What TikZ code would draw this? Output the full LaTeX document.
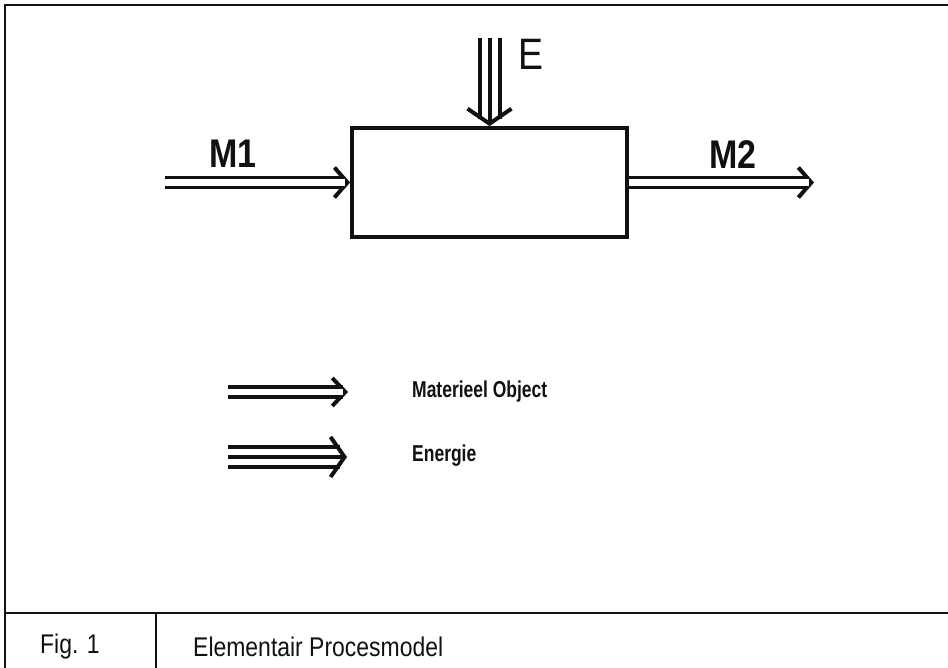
\documentclass[tikz,border=0pt]{standalone}
\usepackage{fontspec}
\setmainfont{Liberation Sans}
\newfontfamily\narrowsans[FakeStretch=0.85]{Liberation Sans}
\newfontfamily\condsans[FakeStretch=0.76]{Liberation Sans}
\usetikzlibrary{
  arrows.meta,
  positioning,
  calc,
}
\definecolor{ink}{HTML}{111111}
\definecolor{paper}{HTML}{FFFFFF}
\tikzset{
  frame/.style={draw=ink, line width=2.2pt},
  procesbox/.style={
    draw=ink,
    line width=3.8pt,
    minimum width=275pt,
    minimum height=109pt,
    inner sep=0pt,
  },
  flowlabel/.style={font=\narrowsans\bfseries\fontsize{40}{44}\selectfont, text=ink, inner sep=0pt},
  energylabel/.style={font=\narrowsans\fontsize{44}{48}\selectfont, text=ink, inner sep=0pt},
  legendtext/.style={font=\condsans\bfseries\fontsize{23}{27}\selectfont, text=ink, anchor=west, inner sep=0pt},
  captiontext/.style={font=\narrowsans\fontsize{27}{31}\selectfont, text=ink, anchor=west, inner sep=0pt},
  tipmark/.style={
    draw=paper,
    line width=0.1pt,
    -{Straight Barb[color=ink, line width=4pt, length=13pt, width=30pt]},
  },
  matflow/.style={draw=ink, double=paper, line width=3.5pt, double distance=6.5pt, shorten >=5pt},
  energyflow/.style={draw=ink, double=paper, line width=4pt, double distance=16pt, shorten >=7pt},
  energycore/.style={
    draw=ink,
    line width=4pt,
    -{Straight Barb[line width=4pt, length=15pt, width=44pt]},
  },
}

\begin{document}
\begin{tikzpicture}[x=1pt,y=-1pt]
  \useasboundingbox (0,0) rectangle (948,668);
  \fill[paper] (0,0) rectangle (948,668);

  % frame and caption row
  \draw[frame] (948,5) -- (5,5) -- (5,668);
  \draw[frame] (5,613) -- (948,613);
  \draw[frame] (156,613) -- (156,668);
  \node[captiontext] (fig) at (40,647) {Fig. 1};
  \node[captiontext] (caption) at (193,647) {Elementair Procesmodel};

  % process
  \node[procesbox] (proces) at (489.5,182.5) {};
  \coordinate (m1in) at (165,182.5);
  \coordinate (m2out) at (814,182.5);
  \coordinate (ein) at (489.5,38);

  \draw[tipmark] (m1in) -- (proces.west);
  \draw[matflow] (m1in) -- (proces.west);
  \draw[tipmark] (proces.east) -- (m2out);
  \draw[matflow] (proces.east) -- (m2out);
  \draw[energyflow] (ein) -- (proces.north);
  \draw[energycore] (ein) -- (proces.north);

  \node[flowlabel] (m1) at (233,154) {M1};
  \node[flowlabel] (m2) at (733,155) {M2};
  \node[energylabel] (e) at (531,54) {E};

  % legend
  \coordinate (matA) at (228,392);
  \coordinate (matB) at (348,392);
  \coordinate (enA) at (228,457);
  \coordinate (enB) at (347,457);
  \draw[tipmark, -{Straight Barb[color=ink, line width=4pt, length=13pt, width=28pt]}] (matA) -- (matB);
  \draw[matflow] (matA) -- (matB);
  \draw[energyflow, line width=3.5pt, double distance=16.5pt] (enA) -- (enB);
  \draw[energycore, line width=3.5pt, -{Straight Barb[line width=4pt, length=14pt, width=40pt]}] (enA) -- (enB);
  \node[legendtext] (mattext) at (412,392) {Materieel Object};
  \node[legendtext] (entext) at (412,456) {Energie};
\end{tikzpicture}
\end{document}
